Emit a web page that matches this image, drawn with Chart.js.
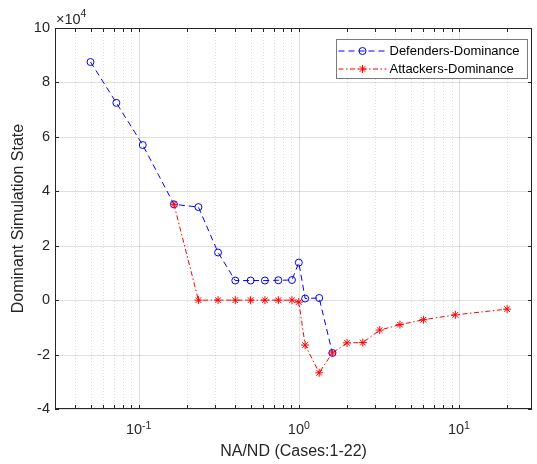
<!DOCTYPE html>
<html>
<head>
<meta charset="utf-8">
<script src="https://cdn.jsdelivr.net/npm/chart.js@4.4.1/dist/chart.umd.min.js"></script>
<style>
  html, body { margin: 0; padding: 0; background: #fff; }
  #wrap { width: 537px; height: 464px; }
</style>
</head>
<body>
<div id="wrap"><canvas id="chart" width="537" height="464"></canvas></div>
<script>
// NA/ND ratio of each case (1-22)
const ratios = [0.05, 0.0725, 0.106, 0.166, 0.236, 0.313, 0.401, 0.5, 0.614, 0.745, 0.906,
                1.0, 1.095, 1.34, 1.62, 2.0, 2.51, 3.2, 4.28, 6.0, 9.5, 20.0];
// Defenders-Dominance, cases 1-15
const defenders = [87500, 72500, 57000, 35200, 34200, 17500, 7200, 7200, 7200, 7300, 7400,
                   13800, 600, 800, -19400];
// Attackers-Dominance, cases 4-22
const attackers = [35200, 0, 0, 0, 0, 0, 0, 0, -700, -16500, -26700, -19400,
                   -15700, -15600, -11000, -9000, -7200, -5400, -3300];
const attackerStart = 3;

// axis ticks
const yTicks = [-40000, -20000, 0, 20000, 40000, 60000, 80000, 100000];
const xDecades = [0.1, 1, 10];
const xExponents = ['-1', '0', '1'];
const seriesNames = ['Defenders-Dominance', 'Attackers-Dominance'];

const FONT = "'Liberation Sans', Arial, Helvetica, sans-serif";
const AXIS = '#262626';
const X_MIN = 0.03, X_MAX = 28.6;

Chart.defaults.font.family = FONT;
Chart.defaults.color = AXIS;

// minor ticks of the log axis (2..9 x decade)
function minorTicks() {
    const out = [];
    for (let d = -2; d <= 1; d++) {
        for (let k = 2; k <= 9; k++) {
            const v = k * Math.pow(10, d);
            if (v >= X_MIN && v <= X_MAX) out.push(v);
        }
    }
    return out;
}

const matlabAxes = {
    id: 'matlabAxes',
    beforeDatasetsDraw(chart) {
        const { ctx, chartArea: { left, right, top, bottom }, scales: { x, y } } = chart;
        ctx.save();
        ctx.lineWidth = 1;
        // minor grid (dotted)
        ctx.strokeStyle = 'rgba(38,38,38,0.16)';
        ctx.setLineDash([1, 2]);
        minorTicks().forEach(v => {
            const px = Math.round(x.getPixelForValue(v)) + 0.5;
            ctx.beginPath(); ctx.moveTo(px, top); ctx.lineTo(px, bottom); ctx.stroke();
        });
        // major grid
        ctx.setLineDash([]);
        ctx.strokeStyle = 'rgba(38,38,38,0.15)';
        xDecades.forEach(v => {
            const px = Math.round(x.getPixelForValue(v)) + 0.5;
            ctx.beginPath(); ctx.moveTo(px, top); ctx.lineTo(px, bottom); ctx.stroke();
        });
        yTicks.forEach(v => {
            const py = Math.round(y.getPixelForValue(v)) + 0.5;
            ctx.beginPath(); ctx.moveTo(left, py); ctx.lineTo(right, py); ctx.stroke();
        });
        ctx.restore();
    },
    afterDatasetsDraw(chart) {
        const { ctx, chartArea: { left, right, top, bottom }, scales: { x, y } } = chart;
        ctx.save();
        ctx.strokeStyle = AXIS;
        ctx.lineWidth = 1;
        // box
        ctx.strokeRect(left + 0.5, top + 0.5, right - left - 1, bottom - top - 1);
        // tick marks, inward on all sides
        const tl = 4;
        ctx.beginPath();
        xDecades.concat(minorTicks()).forEach(v => {
            const px = Math.round(x.getPixelForValue(v)) + 0.5;
            ctx.moveTo(px, bottom); ctx.lineTo(px, bottom - tl);
            ctx.moveTo(px, top); ctx.lineTo(px, top + tl);
        });
        yTicks.forEach(v => {
            const py = Math.round(y.getPixelForValue(v)) + 0.5;
            ctx.moveTo(left, py); ctx.lineTo(left + tl, py);
            ctx.moveTo(right, py); ctx.lineTo(right - tl, py);
        });
        ctx.stroke();

        // x tick labels 10^n
        ctx.fillStyle = AXIS;
        ctx.textBaseline = 'alphabetic';
        ctx.textAlign = 'left';
        xDecades.forEach((v, i) => {
            const px = x.getPixelForValue(v);
            ctx.font = '14.5px ' + FONT;
            const wb = ctx.measureText('10').width;
            ctx.font = '10.5px ' + FONT;
            const we = ctx.measureText(xExponents[i]).width;
            const x0 = px - (wb + we) / 2;
            ctx.font = '14.5px ' + FONT;
            ctx.fillText('10', x0, 434);
            ctx.font = '10.5px ' + FONT;
            ctx.fillText(xExponents[i], x0 + wb, 428.5);
        });
        // y exponent label
        ctx.font = '14.5px ' + FONT;
        ctx.fillText('\u00d710', left + 1, top - 4.5);
        const wx = ctx.measureText('\u00d710').width;
        ctx.font = '10.5px ' + FONT;
        ctx.fillText('4', left + 1 + wx, top - 11.5);
        ctx.restore();
    },
    afterDraw(chart) {
        // MATLAB style legend, top right
        const { ctx, chartArea: { top } } = chart;
        const bx = 336.5, by = top + 11.5, bw = 191, bh = 39;
        ctx.save();
        ctx.fillStyle = '#fff';
        ctx.fillRect(bx, by, bw, bh);
        ctx.strokeStyle = '#7a7a7a';
        ctx.lineWidth = 1;
        ctx.strokeRect(bx, by, bw, bh);
        chart.data.datasets.forEach((ds, i) => {
            const cy = by + 11.5 + i * 18;
            ctx.strokeStyle = ds.borderColor;
            ctx.lineWidth = 1;
            ctx.setLineDash(ds.borderDash);
            ctx.beginPath(); ctx.moveTo(bx + 2, cy); ctx.lineTo(bx + 50, cy); ctx.stroke();
            ctx.setLineDash([]);
            ctx.fillStyle = 'rgba(0,0,0,0)';
            Chart.helpers.drawPoint(ctx, {
                pointStyle: ds.pointStyle, radius: ds.pointRadius,
                borderWidth: ds.pointBorderWidth, rotation: 0
            }, bx + 26, cy);
            ctx.fillStyle = '#000';
            ctx.font = '13px ' + FONT;
            ctx.textBaseline = 'middle';
            ctx.fillText(seriesNames[i], bx + 53, cy);
        });
        ctx.restore();
    }
};

new Chart(document.getElementById('chart'), {
    type: 'line',
    data: {
        datasets: [
            {
                label: seriesNames[0],
                data: defenders.map((v, i) => ({ x: ratios[i], y: v })),
                borderColor: 'rgb(0,0,255)',
                borderWidth: 1,
                borderDash: [6, 4],
                pointStyle: 'circle',
                pointRadius: 3.5,
                pointBorderWidth: 1,
                pointBorderColor: 'rgb(0,0,255)',
                pointBackgroundColor: 'rgba(0,0,0,0)',
                tension: 0,
                order: 1
            },
            {
                label: seriesNames[1],
                data: attackers.map((v, i) => ({ x: ratios[i + attackerStart], y: v })),
                borderColor: 'rgb(255,0,0)',
                borderWidth: 1,
                borderDash: [5, 2.5, 1.5, 2.5],
                pointStyle: 'star',
                pointRadius: 4,
                pointBorderWidth: 1,
                pointBorderColor: 'rgb(255,0,0)',
                pointBackgroundColor: 'rgb(255,0,0)',
                tension: 0,
                order: 0
            }
        ]
    },
    options: {
        responsive: false,
        animation: false,
        devicePixelRatio: 1,
        layout: { padding: { top: 28, right: 1, left: 0, bottom: 0 } },
        plugins: { legend: { display: false }, tooltip: { enabled: false } },
        scales: {
            x: {
                type: 'logarithmic',
                min: X_MIN,
                max: X_MAX,
                grid: { display: false, drawTicks: false },
                border: { display: false },
                ticks: { display: false },
                title: {
                    display: true,
                    text: 'NA/ND (Cases:1-22)',
                    font: { size: 16 },
                    color: AXIS,
                    padding: { top: 0, bottom: 3 }
                },
                afterFit: s => { s.height = 55; }
            },
            y: {
                type: 'linear',
                min: -40000,
                max: 100000,
                afterBuildTicks: s => { s.ticks = yTicks.map(v => ({ value: v })); },
                grid: { display: false, drawTicks: false },
                border: { display: false },
                ticks: {
                    padding: 5,
                    font: { size: 14.5 },
                    color: AXIS,
                    callback: v => String(v / 10000)
                },
                title: {
                    display: true,
                    text: 'Dominant Simulation State',
                    font: { size: 16 },
                    color: AXIS,
                    padding: { top: 9, bottom: 0 }
                },
                afterFit: s => { s.width = 55; }
            }
        }
    },
    plugins: [matlabAxes]
});
</script>
</body>
</html>
